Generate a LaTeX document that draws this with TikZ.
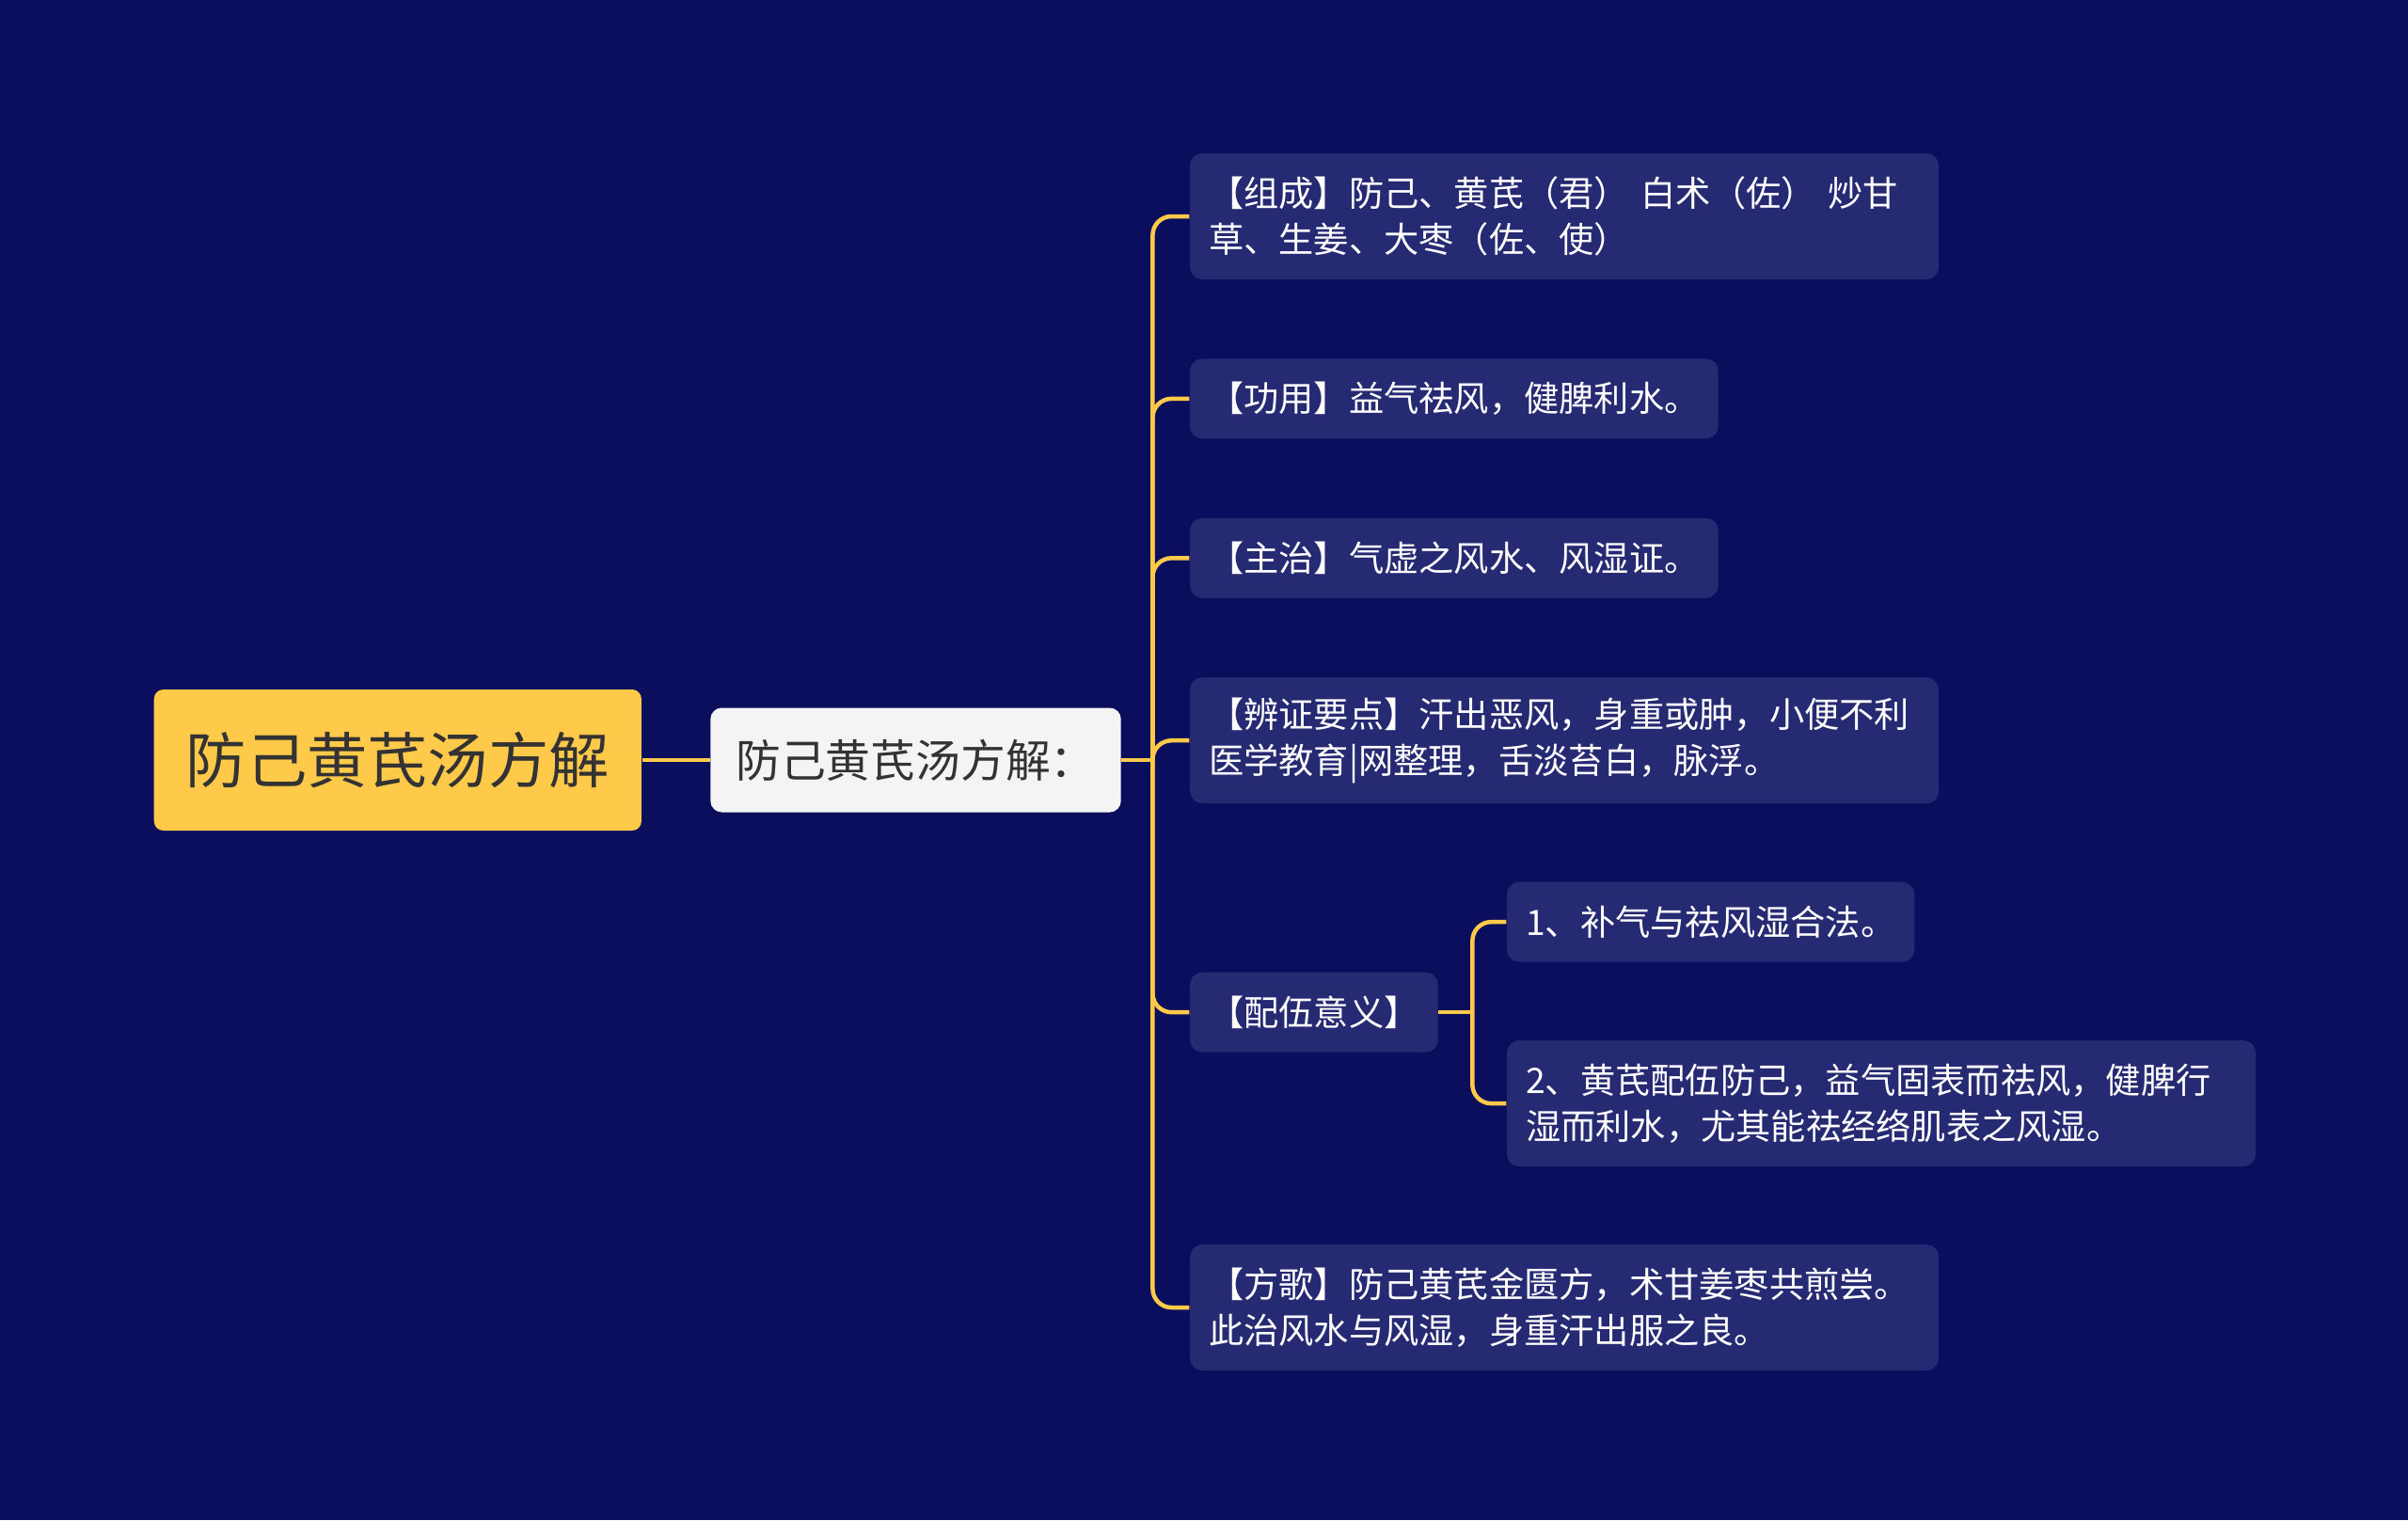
\documentclass[tikz,border=0pt]{standalone}
\usepackage{fontspec}
\setmainfont{Noto Sans CJK SC}
\usetikzlibrary{positioning}
\definecolor{pagebg}{HTML}{0A0E5C}
\definecolor{leaffill}{HTML}{262A73}
\definecolor{gold}{HTML}{FFC94A}
\definecolor{paper}{HTML}{F4F4F5}
\definecolor{ink}{HTML}{333333}
\tikzset{
  rootbox/.style={
    rectangle,
    rounded corners=1mm,
    fill=gold,
    text=ink,
    inner xsep=0.34cm,
    minimum height=1.5cm,
    font=\fontsize{18.3pt}{22pt}\selectfont
  },
  mainbox/.style={
    rectangle,
    rounded corners=1.2mm,
    fill=paper,
    text=ink,
    inner xsep=0.27cm,
    minimum height=1.11cm,
    font=\fontsize{13.6pt}{16pt}\selectfont
  },
  leaf/.style={
    rectangle,
    rounded corners=1.3mm,
    fill=leaffill,
    text=white,
    align=left,
    inner xsep=0.2cm,
    inner ysep=0.15cm,
    minimum height=0.85cm,
    font=\fontsize{10.6pt}{13.9pt}\selectfont
  },
  wideleaf/.style={
    leaf,
    text width=7.56cm,
    minimum height=1.34cm
  },
  link/.style={
    draw=gold,
    line width=0.045cm,
    rounded corners=0.2cm
  }
}

\begin{document}
\begin{tikzpicture}[node distance=0.83cm and 0.72cm]
  \fill[pagebg] (0,0) rectangle (25.6,-16.16);

  \node[rootbox, anchor=west] (title) at (1.63,-8.08) {防己黄芪汤方解};
  \node[mainbox, right=of title] (summary) {防己黄芪汤方解：};
  \node[wideleaf, above right=5.78cm and 0.72cm of summary.east, anchor=west] (composition) {【组成】防己、黄芪（君） 白术（佐） 炒甘\\草、生姜、大枣（佐、使）};
  \node[leaf, below=of composition.south west, anchor=north west] (function) {【功用】益气祛风，健脾利水。};
  \node[leaf, below=of function.south west, anchor=north west] (indication) {【主治】气虚之风水、风湿证。};
  \node[wideleaf, below=of indication.south west, anchor=north west] (keypoints) {【辨证要点】汗出恶风，身重或肿，小便不利\\医学教育|网整理，舌淡苔白，脉浮。};
  \node[leaf, below=1.78cm of keypoints.south west, anchor=north west] (pairing) {【配伍意义】};
  \node[leaf, above right=0.96cm and 0.72cm of pairing.east, anchor=west] (pairone) {1、补气与祛风湿合法。};
  \node[wideleaf, below right=0.97cm and 0.72cm of pairing.east, anchor=west] (pairtwo) {2、黄芪配伍防己，益气固表而祛风，健脾行\\湿而利水，尤其能祛经络肌表之风湿。};
  \node[wideleaf, below=2.03cm of pairing.south west, anchor=north west] (verse) {【方歌】防己黄芪金匮方，术甘姜枣共煎尝。\\此治风水与风湿，身重汗出服之良。};

  \coordinate[right=0.33cm of summary.east] (trunk);
  \coordinate[right=0.36cm of pairing.east] (fork);

  \draw[link] (title) -- (summary);
  \draw[link] (summary) -- (trunk);
  \foreach \leafname in {composition,function,indication,keypoints,pairing,verse}
    \draw[link] (trunk) |- (\leafname.west);
  \draw[link] (pairing) -- (fork);
  \foreach \leafname in {pairone,pairtwo}
    \draw[link] (fork) |- (\leafname.west);
\end{tikzpicture}
\end{document}
